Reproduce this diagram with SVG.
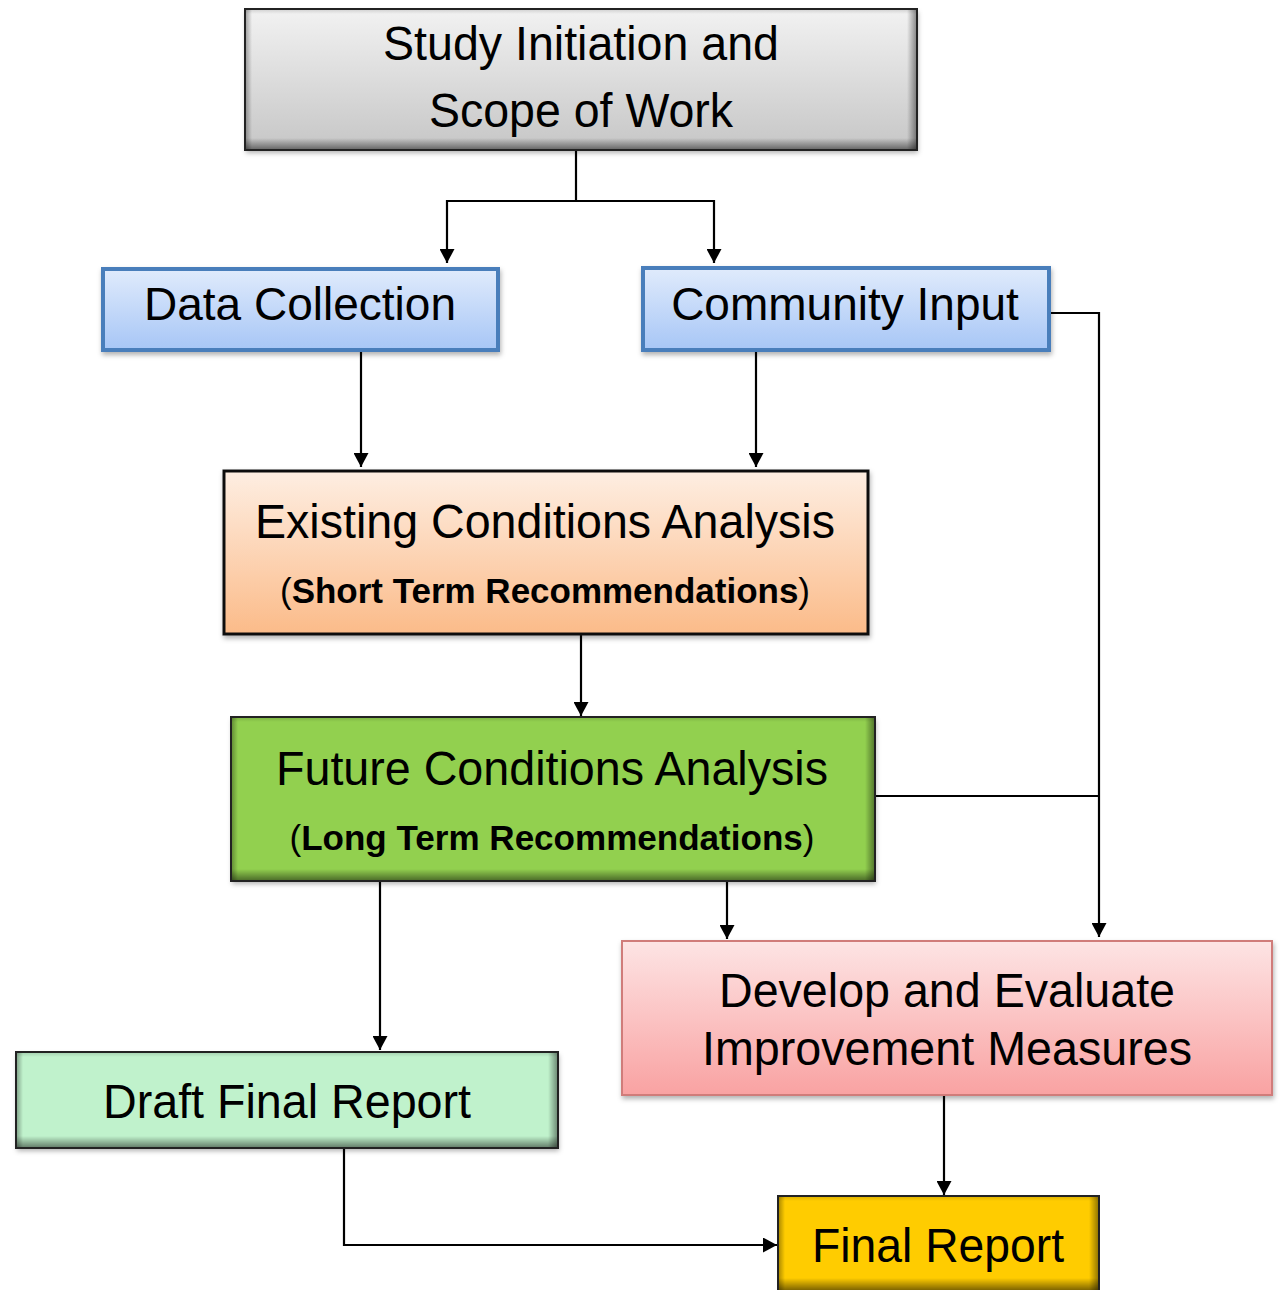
<svg xmlns="http://www.w3.org/2000/svg" width="1281" height="1290" viewBox="0 0 1281 1290">
<style>
  text { font-family: "Liberation Sans", Arial, sans-serif; fill: #000; text-anchor: middle; }
  .t48 { font-size: 48px; }
  .t46 { font-size: 46px; }
  .sub { font-size: 35px; }
  .b { font-weight: bold; }
  .conn { fill: none; stroke: #000; stroke-width: 2.2; }
  .arr { marker-end: url(#ah); }
  .eb { fill: url(#edgeB); }
  .er { fill: url(#edgeR); }
  .el { fill: url(#edgeL); }
  .et { fill: url(#edgeT); }
</style>
<defs>
  <marker id="ah" viewBox="0 0 14 15" refX="14" refY="7.5" markerWidth="14" markerHeight="15" markerUnits="userSpaceOnUse" orient="auto">
    <path d="M0,0 L14,7.5 L0,15 z" fill="#000"/>
  </marker>
  <linearGradient id="gGray" x1="0" y1="0" x2="0" y2="1">
    <stop offset="0" stop-color="#f2f2f2"/>
    <stop offset="1" stop-color="#c6c6c6"/>
  </linearGradient>
  <linearGradient id="gBlue" x1="0" y1="0" x2="0" y2="1">
    <stop offset="0" stop-color="#e0ebfc"/>
    <stop offset="1" stop-color="#a7c6f6"/>
  </linearGradient>
  <linearGradient id="gPeach" x1="0" y1="0" x2="0" y2="1">
    <stop offset="0" stop-color="#feeee2"/>
    <stop offset="1" stop-color="#fbbb89"/>
  </linearGradient>
  <linearGradient id="gPink" x1="0" y1="0" x2="0" y2="1">
    <stop offset="0" stop-color="#fde4e4"/>
    <stop offset="1" stop-color="#f9a2a2"/>
  </linearGradient>
  <linearGradient id="edgeB" x1="0" y1="0" x2="0" y2="1">
    <stop offset="0" stop-color="#000" stop-opacity="0"/>
    <stop offset="1" stop-color="#000" stop-opacity="0.5"/>
  </linearGradient>
  <linearGradient id="edgeT" x1="0" y1="1" x2="0" y2="0">
    <stop offset="0" stop-color="#000" stop-opacity="0"/>
    <stop offset="1" stop-color="#000" stop-opacity="0.15"/>
  </linearGradient>
  <linearGradient id="edgeR" x1="0" y1="0" x2="1" y2="0">
    <stop offset="0" stop-color="#000" stop-opacity="0"/>
    <stop offset="1" stop-color="#000" stop-opacity="0.45"/>
  </linearGradient>
  <linearGradient id="edgeL" x1="1" y1="0" x2="0" y2="0">
    <stop offset="0" stop-color="#000" stop-opacity="0"/>
    <stop offset="1" stop-color="#000" stop-opacity="0.35"/>
  </linearGradient>
  <filter id="shadow" x="-5%" y="-10%" width="110%" height="130%">
    <feDropShadow dx="1" dy="3" stdDeviation="2.5" flood-opacity="0.3"/>
  </filter>
</defs>

<g id="connectors">
  <path class="conn" d="M576,150 V201"/>
  <path class="conn arr" d="M576,201 H447 V263"/>
  <path class="conn arr" d="M576,201 H714 V263"/>
  <path class="conn arr" d="M361,351 V467"/>
  <path class="conn arr" d="M756,351 V467"/>
  <path class="conn arr" d="M1050,313 H1099 V937"/>
  <path class="conn" d="M875,796 H1099"/>
  <path class="conn arr" d="M581,635 V716"/>
  <path class="conn arr" d="M727,881 V939"/>
  <path class="conn arr" d="M380,881 V1050"/>
  <path class="conn arr" d="M944,1095 V1195"/>
  <path class="conn arr" d="M344,1148 V1245 H777"/>
</g>

<g id="study">
  <rect x="245" y="9" width="672" height="141" fill="url(#gGray)" filter="url(#shadow)"/>
  <rect class="et" x="245" y="9" width="672" height="5"/>
  <rect class="eb" x="245" y="138" width="672" height="12"/>
  <rect class="el" x="245" y="9" width="7" height="141"/>
  <rect class="er" x="907" y="9" width="10" height="141"/>
  <rect x="245" y="9" width="672" height="141" fill="none" stroke="#222" stroke-width="2"/>
  <text class="t48" x="581" y="60" textLength="396" lengthAdjust="spacingAndGlyphs">Study Initiation and</text>
  <text class="t48" x="581" y="127" textLength="304" lengthAdjust="spacingAndGlyphs">Scope of Work</text>
</g>

<g id="data">
  <rect x="103" y="269" width="395" height="81" fill="url(#gBlue)" stroke="#4a7ebb" stroke-width="4" filter="url(#shadow)"/>
  <text class="t46" x="300" y="320">Data Collection</text>
</g>

<g id="community">
  <rect x="643" y="268" width="406" height="82" fill="url(#gBlue)" stroke="#4a7ebb" stroke-width="4" filter="url(#shadow)"/>
  <text class="t46" x="845" y="320">Community Input</text>
</g>

<g id="existing">
  <rect x="224" y="471" width="644" height="163" fill="url(#gPeach)" stroke="#111" stroke-width="3" filter="url(#shadow)"/>
  <text class="t48" x="545" y="538" textLength="580" lengthAdjust="spacingAndGlyphs">Existing Conditions Analysis</text>
  <text class="sub" x="545" y="603" textLength="530" lengthAdjust="spacingAndGlyphs">(<tspan class="b">Short Term Recommendations</tspan>)</text>
</g>

<g id="future">
  <rect x="231" y="717" width="644" height="164" fill="#92d050" filter="url(#shadow)"/>
  <rect class="et" x="231" y="717" width="644" height="5"/>
  <rect class="eb" x="231" y="869" width="644" height="12"/>
  <rect class="el" x="231" y="717" width="7" height="164"/>
  <rect class="er" x="865" y="717" width="10" height="164"/>
  <rect x="231" y="717" width="644" height="164" fill="none" stroke="#222" stroke-width="2"/>
  <text class="t48" x="552" y="785" textLength="552" lengthAdjust="spacingAndGlyphs">Future Conditions Analysis</text>
  <text class="sub" x="552" y="850" textLength="525" lengthAdjust="spacingAndGlyphs">(<tspan class="b">Long Term Recommendations</tspan>)</text>
</g>

<g id="develop">
  <rect x="622" y="941" width="650" height="154" fill="url(#gPink)" stroke="#d07c7a" stroke-width="2" filter="url(#shadow)"/>
  <text class="t48" x="947" y="1007" textLength="456" lengthAdjust="spacingAndGlyphs">Develop and Evaluate</text>
  <text class="t48" x="947" y="1065" textLength="490" lengthAdjust="spacingAndGlyphs">Improvement Measures</text>
</g>

<g id="draft">
  <rect x="16" y="1052" width="542" height="96" fill="#c0f2cc" filter="url(#shadow)"/>
  <rect class="et" x="16" y="1052" width="542" height="5"/>
  <rect class="eb" x="16" y="1136" width="542" height="12"/>
  <rect class="el" x="16" y="1052" width="7" height="96"/>
  <rect class="er" x="548" y="1052" width="10" height="96"/>
  <rect x="16" y="1052" width="542" height="96" fill="none" stroke="#222" stroke-width="2"/>
  <text class="t48" x="287" y="1118" textLength="368" lengthAdjust="spacingAndGlyphs">Draft Final Report</text>
</g>

<g id="final">
  <rect x="778" y="1196" width="321" height="100" fill="#ffcc00"/>
  <rect class="et" x="778" y="1196" width="321" height="5"/>
  <rect class="eb" x="778" y="1278" width="321" height="12"/>
  <rect class="el" x="778" y="1196" width="7" height="100"/>
  <rect class="er" x="1089" y="1196" width="10" height="100"/>
  <rect x="778" y="1196" width="321" height="100" fill="none" stroke="#222" stroke-width="2"/>
  <text class="t48" x="938" y="1262" textLength="252" lengthAdjust="spacingAndGlyphs">Final Report</text>
</g>
</svg>
